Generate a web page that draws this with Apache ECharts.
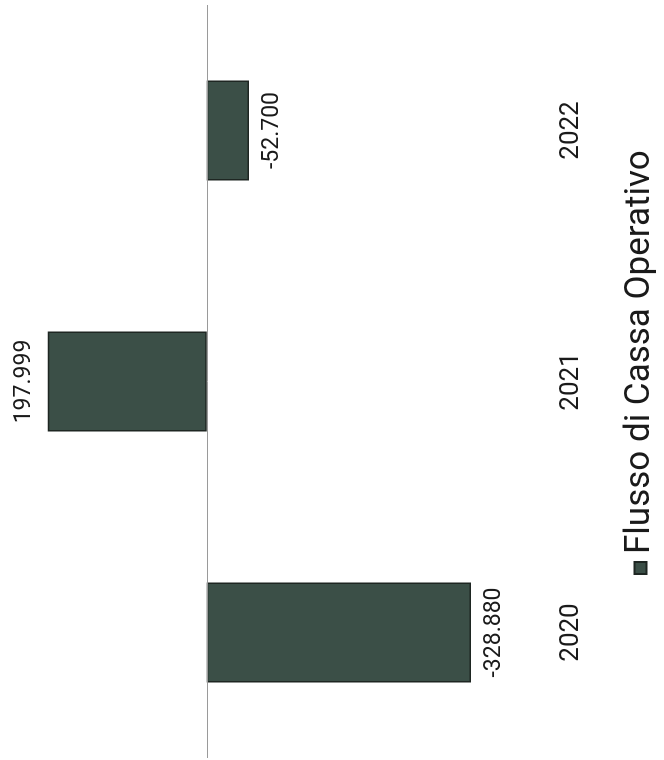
<!DOCTYPE html>
<html>
<head>
<meta charset="utf-8">
<script src="https://cdn.jsdelivr.net/npm/echarts@6/dist/echarts.min.js"></script>
<style>
  html, body { margin: 0; padding: 0; background: #ffffff; }
  body { width: 664px; height: 760px; overflow: hidden; position: relative; }
  /* The reference is a scan rotated 90° counter-clockwise */
  #chart {
    position: absolute; left: 0; top: 0;
    width: 760px; height: 664px;
    transform-origin: 0 0;
    transform: translateY(760px) rotate(-90deg);
  }
</style>
</head>
<body>
<div id="chart"></div>
<script>
// ---- data ----
const categories = ['2020', '2021', '2022'];
const seriesName = 'Flusso di Cassa Operativo';
const cashFlow = [-328880, 197999, -52700];

function fmtIt(v) {
  const s = Math.abs(Math.round(v)).toString().replace(/\B(?=(\d{3})+(?!\d))/g, '.');
  return (v < 0 ? '-' : '') + s;
}

const FONT = 'Roboto, "Liberation Sans", Arial, sans-serif';
const chart = echarts.init(document.getElementById('chart'), null, { renderer: 'canvas' });

chart.setOption({
  animation: false,
  backgroundColor: '#ffffff',
  grid: { left: 2, right: 5, top: 6, bottom: 136, containLabel: false },
  legend: {
    data: [seriesName],
    left: 180,
    bottom: 1,
    icon: 'rect',
    itemWidth: 12,
    itemHeight: 12,
    itemGap: 5,
    textStyle: { fontFamily: FONT, fontSize: 35, color: '#1a1a1a', padding: [0, 0, 0, 3] }
  },
  xAxis: {
    type: 'category',
    data: categories,
    position: 'bottom',
    axisLine: { show: false, onZero: false },
    axisTick: { show: false },
    axisLabel: { margin: 30, fontFamily: FONT, fontSize: 26, color: '#1a1a1a' },
    splitLine: { show: false }
  },
  yAxis: {
    type: 'value',
    min: -400000,
    max: 250000,
    show: false,
    splitLine: { show: false }
  },
  series: [{
    name: seriesName,
    type: 'bar',
    data: cashFlow.map(v => ({
      value: v,
      label: { position: v >= 0 ? 'top' : 'bottom' }
    })),
    barWidth: 100,
    itemStyle: { color: '#3b4f47', borderColor: '#1e2622', borderWidth: 1.5 },
    label: {
      show: true,
      distance: 12,
      fontFamily: FONT,
      fontSize: 23,
      color: '#1a1a1a',
      formatter: p => fmtIt(p.value)
    },
    markLine: {
      silent: true,
      symbol: ['none', 'none'],
      label: { show: false },
      lineStyle: { color: '#9a9a9a', width: 1, type: 'solid' },
      data: [{ yAxis: 0 }]
    }
  }]
});
</script>
</body>
</html>
